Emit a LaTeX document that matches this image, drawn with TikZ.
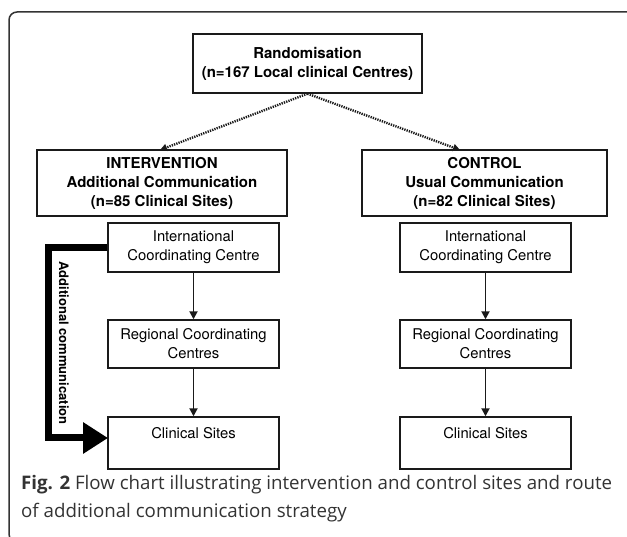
\documentclass[tikz,border=0pt]{standalone}
\usepackage{fontspec}
\setmainfont{TeX Gyre Heros}
\newfontfamily\capfont{Open Sans}
\usetikzlibrary{arrows.meta}
\definecolor{framegray}{HTML}{333333}
\definecolor{inkc}{HTML}{1A1A1A}
\begin{document}
\begin{tikzpicture}[x=1pt,y=-1pt,
  box/.style={draw=inkc,line width=1.4pt,align=center,inner sep=0pt,font=\fontsize{14.8}{19}\selectfont},
  bbox/.style={box,font=\fontsize{15}{19}\selectfont\bfseries},
  flow/.style={-{Triangle[length=8pt,width=8pt]},line width=1.8pt,draw=inkc},
  dots/.style={-{Triangle[length=7pt,width=7pt]},line width=2.4pt,draw=inkc,dash pattern=on 1.3pt off 1.1pt},
  thick arrow/.style={-{Triangle[length=25pt,width=30pt]},line width=7pt,line join=miter,draw=black}]
\useasboundingbox (0,0) rectangle (627,537);
\draw[framegray,line width=1.5pt,rounded corners=8pt] (16,542) -- (9,542) -- (9,12) -- (640,12);
% top boxes
\node[bbox,minimum width=229pt,minimum height=59pt] (rand) at (307.5,63.5) {Randomisation\\(n=167 Local clinical Centres)};
\node[bbox,minimum width=250pt,minimum height=66pt] (interv) at (162,183) {INTERVENTION\\Additional Communication\\(n=85 Clinical Sites)};
\node[bbox,minimum width=245pt,minimum height=66pt] (ctrl) at (484.5,183) {CONTROL\\Usual Communication\\(n=82 Clinical Sites)};
\coordinate (iN) at (160,150);
\coordinate (cN) at (460,150);
\draw[dots] (rand.south) -- (iN);
\draw[dots] (rand.south) -- (cN);
% left column
\node[box,minimum width=171pt,minimum height=49pt] (ic1) at (193.5,247.5) {International\\Coordinating Centre};
\node[box,minimum width=171pt,minimum height=48pt] (rc1) at (193.5,344) {Regional Coordinating\\Centres};
\node[box,minimum width=171pt,minimum height=52pt] (cs1) at (193.5,443) {Clinical Sites\\\vphantom{C}};
% right column
\node[box,minimum width=171pt,minimum height=49pt] (ic2) at (485.5,247.5) {International\\Coordinating Centre};
\node[box,minimum width=171pt,minimum height=48pt] (rc2) at (485.5,344) {Regional Coordinating\\Centres};
\node[box,minimum width=171pt,minimum height=52pt] (cs2) at (485.5,443) {Clinical Sites\\\vphantom{C}};
\draw[flow] (ic1) -- (rc1);
\draw[flow] (rc1) -- (cs1);
\draw[flow] (ic2) -- (rc2);
\draw[flow] (rc2) -- (cs2);
% additional communication route
\coordinate (tipA) at (108,438);
\draw[thick arrow] (ic1.west) -- (48,247.5) -- (48,438) -- (tipA);
\node[rotate=-90,font=\fontsize{13}{16}\selectfont\bfseries] (lab) at (64,343) {Additional communication};
% caption
\node[anchor=north west,align=left,inner sep=0pt,text=framegray,font=\capfont\fontsize{18.7}{28}\selectfont] (cap) at (21,475)
  {\textbf{Fig. 2} Flow chart illustrating intervention and control sites and route\\of additional communication strategy};
\end{tikzpicture}
\end{document}
